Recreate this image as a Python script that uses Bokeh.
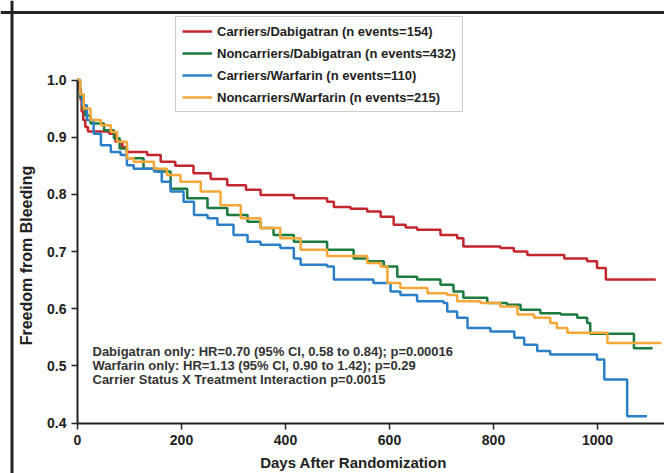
from math import pi
from bokeh.plotting import figure
from bokeh.models import Range1d, Label, Legend, LegendItem, FixedTicker, PrintfTickFormatter, Span
from bokeh.embed import file_html
from bokeh.resources import INLINE

# ---- data ----
red_days = [0, 3, 6, 8, 11, 15, 20, 61, 73, 86, 95, 134, 160, 188, 223, 256, 288, 324, 352, 416,
            480, 493, 525, 557, 583, 608, 631, 653, 698, 730, 742, 813, 839, 865, 936, 980, 999, 1016, 1112]
red_surv = [1.0, 0.985, 0.965, 0.945, 0.93, 0.918, 0.910, 0.906, 0.892, 0.883, 0.874, 0.869, 0.857, 0.850,
            0.837, 0.827, 0.816, 0.808, 0.799, 0.793, 0.787, 0.778, 0.775, 0.770, 0.761, 0.747, 0.742, 0.738,
            0.729, 0.723, 0.709, 0.706, 0.700, 0.694, 0.688, 0.683, 0.671, 0.651, 0.651]

green_days = [0, 5, 10, 15, 25, 51, 70, 81, 95, 127, 153, 179, 211, 250, 288, 327, 352, 377, 416, 480,
              531, 557, 589, 615, 653, 698, 723, 742, 788, 826, 852, 890, 929, 961, 980, 986, 1070, 1106]
green_surv = [1.0, 0.97, 0.95, 0.938, 0.924, 0.912, 0.898, 0.88, 0.863, 0.845, 0.840, 0.810, 0.793, 0.776,
              0.764, 0.752, 0.741, 0.729, 0.717, 0.703, 0.688, 0.683, 0.674, 0.656, 0.651, 0.642, 0.630,
              0.619, 0.610, 0.607, 0.598, 0.592, 0.590, 0.584, 0.575, 0.556, 0.531, 0.531]

blue_days = [0, 4, 9, 18, 31, 45, 64, 83, 95, 108, 147, 162, 179, 204, 224, 250, 269, 300, 327, 352, 390,
             416, 429, 480, 493, 550, 569, 602, 621, 653, 704, 711, 730, 750, 794, 840, 859, 884, 909, 999,
             1013, 1057, 1095]
blue_surv = [1.0, 0.975, 0.956, 0.930, 0.906, 0.886, 0.874, 0.869, 0.851, 0.845, 0.840, 0.822, 0.805, 0.787,
             0.764, 0.758, 0.747, 0.729, 0.717, 0.712, 0.706, 0.688, 0.677, 0.674, 0.651, 0.651, 0.645, 0.630,
             0.624, 0.613, 0.610, 0.595, 0.584, 0.566, 0.560, 0.549, 0.537, 0.526, 0.520, 0.511, 0.476,
             0.412, 0.412]

orange_days = [0, 5, 12, 25, 45, 64, 76, 95, 108, 147, 172, 198, 237, 275, 314, 352, 390, 429, 480, 557,
               583, 596, 621, 673, 711, 730, 775, 813, 846, 878, 909, 922, 942, 1019, 1121]
orange_surv = [1.0, 0.975, 0.950, 0.930, 0.921, 0.909, 0.892, 0.863, 0.857, 0.845, 0.834, 0.822, 0.805,
               0.781, 0.758, 0.741, 0.723, 0.703, 0.692, 0.680, 0.674, 0.645, 0.636, 0.627, 0.624, 0.613,
               0.610, 0.604, 0.590, 0.584, 0.575, 0.566, 0.558, 0.540, 0.538]

series_labels = ["Carriers/Dabigatran (n events=154)", "Noncarriers/Dabigatran (n events=432)",
                 "Carriers/Warfarin (n events=110)", "Noncarriers/Warfarin (n events=215)"]
x_ticks = [0, 200, 400, 600, 800, 1000]
y_ticks = [0.4, 0.5, 0.6, 0.7, 0.8, 0.9, 1.0]
notes = ["Dabigatran only: HR=0.70 (95% CI, 0.58 to 0.84); p=0.00016",
         "Warfarin only: HR=1.13 (95% CI, 0.90 to 1.42); p=0.29",
         "Carrier Status X Treatment Interaction p=0.0015"]
x_title = "Days After Randomization"
y_title = "Freedom from Bleeding"

FONT = "Liberation Sans"
DARK = "#222222"

# the frame fills the whole canvas; axes are drawn at fixed data locations inside it
p = figure(width=664, height=473, x_range=Range1d(-148.1, 1128.8), y_range=Range1d(0.3117, 1.1391),
           output_backend="svg", toolbar_location=None,
           min_border_left=0, min_border_right=0, min_border_top=0, min_border_bottom=0)
p.outline_line_color = None
p.xgrid.visible = False
p.ygrid.visible = False

# outer picture frame (left and top edges)
p.add_layout(Span(location=11.5, location_units="screen", dimension="height", line_color=DARK, line_width=3))
p.add_layout(Span(location=461, location_units="screen", dimension="width", line_color=DARK, line_width=3))

colors = ["#c4262e", "#1b7a3e", "#2b7fc7", "#f5a73a"]
data = [(red_days, red_surv), (green_days, green_surv), (blue_days, blue_surv), (orange_days, orange_surv)]
items = []
for (d, s), c, lab in zip(data, colors, series_labels):
    r = p.step(d, s, mode="after", line_color=c, line_width=2.5)
    items.append(LegendItem(label=lab, renderers=[r]))

p.xaxis.fixed_location = 0.4
p.yaxis.fixed_location = 0
for ax in (p.xaxis[0], p.yaxis[0]):
    ax.axis_line_color = DARK
    ax.axis_line_width = 2
    ax.major_tick_line_color = DARK
    ax.major_tick_line_width = 1.5
    ax.major_tick_out = 6
    ax.major_tick_in = 0
    ax.minor_tick_line_color = None
    ax.major_label_text_font = FONT
    ax.major_label_text_font_style = "bold"
    ax.major_label_text_font_size = "14px"
    ax.major_label_text_color = DARK

p.xaxis.ticker = FixedTicker(ticks=x_ticks)
p.yaxis.ticker = FixedTicker(ticks=y_ticks)
p.yaxis.formatter = PrintfTickFormatter(format="%.1f")
p.yaxis.bounds = (0.4, 1.0)
p.xaxis.bounds = (0, 1200)
p.xaxis.major_label_standoff = 6
p.yaxis.major_label_standoff = 5

legend = Legend(items=items, location=(175, 361))
legend.label_text_font = FONT
legend.label_text_font_style = "bold"
legend.label_text_font_size = "13px"
legend.label_text_color = DARK
legend.glyph_width = 30
legend.glyph_height = 16
legend.label_height = 16
legend.spacing = 6
legend.padding = 6
legend.margin = 0
legend.label_standoff = 5
legend.border_line_color = "#999999"
legend.border_line_width = 1
p.add_layout(legend)

for i, t in enumerate(notes):
    p.add_layout(Label(x=92, y=122 - 14 * i, x_units="screen", y_units="screen", text=t,
                       text_baseline="middle", text_font=FONT, text_font_style="bold",
                       text_font_size="13px", text_color="#333333"))

p.add_layout(Label(x=353, y=11, x_units="screen", y_units="screen", text=x_title,
                   text_align="center", text_baseline="middle", text_font=FONT,
                   text_font_style="bold", text_font_size="15px", text_color=DARK))
p.add_layout(Label(x=25.5, y=218, x_units="screen", y_units="screen", text=y_title, angle=pi / 2,
                   text_align="center", text_baseline="middle", text_font=FONT,
                   text_font_style="bold", text_font_size="16px", text_color=DARK))

open("out.html", "w").write(file_html(p, INLINE))
